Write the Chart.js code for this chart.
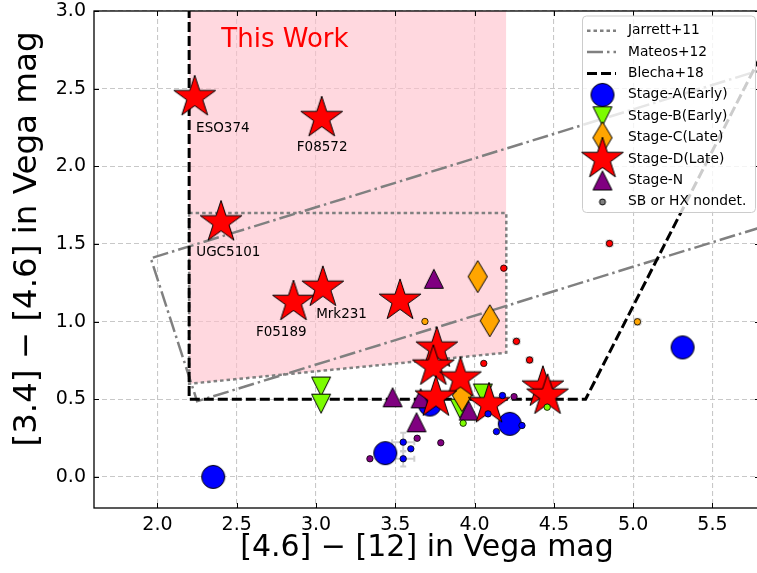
<!DOCTYPE html>
<html>
<head>
<meta charset="utf-8">
<script src="https://cdn.jsdelivr.net/npm/chart.js@4.4.0/dist/chart.umd.min.js"></script>
<style>
html, body { margin: 0; padding: 0; overflow: hidden; background: #fff; }
canvas { display: block; }
</style>
</head>
<body>
<canvas id="myChart" width="771" height="573"></canvas>
<script>
// ---- data ----
var stageAx = [2.352, 3.437, 4.222, 5.312, 3.718];
var stageAy = [0.000, 0.153, 0.342, 0.834, 0.466];
var stageBx = [3.032, 3.032, 3.907, 4.052];
var stageBy = [0.582, 0.472, 0.440, 0.537];
var stageCx = [4.020, 4.096, 3.921];
var stageCy = [1.290, 1.006, 0.524];
var stageDx = [2.235, 3.036, 2.401, 2.858, 3.043, 3.530, 3.762, 3.740, 3.911, 3.756, 4.091, 4.431, 4.460];
var stageDy = [2.445, 2.310, 1.639, 1.126, 1.218, 1.134, 0.826, 0.710, 0.633, 0.511, 0.468, 0.575, 0.523];
var stageNx = [3.743, 3.483, 3.660, 3.634, 3.963];
var stageNy = [1.276, 0.513, 0.506, 0.352, 0.427];

// SB or HX non-detected (small dots), with stage and error bars
var dotX = [3.687, 5.027, 4.184, 4.851, 4.264, 4.058, 4.347, 4.249, 4.176, 3.928, 4.085, 4.299, 4.138, 4.458, 3.638, 3.787, 3.340, 3.550, 3.598, 3.550];
var dotY = [1.001, 0.999, 1.344, 1.503, 0.873, 0.731, 0.753, 0.517, 0.524, 0.346, 0.406, 0.331, 0.292, 0.449, 0.249, 0.220, 0.117, 0.224, 0.181, 0.117];
var dotStage = ['C', 'C', 'D', 'D', 'D', 'D', 'D', 'N', 'A', 'B', 'A', 'A', 'A', 'B', 'N', 'N', 'N', 'A', 'A', 'A'];
var dotXerr = [0, 0.02, 0, 0.02, 0.02, 0, 0.02, 0, 0, 0, 0, 0, 0, 0, 0, 0, 0, 0.07, 0, 0.07];
var dotYerr = [0, 0.02, 0, 0.02, 0.02, 0, 0.02, 0, 0, 0, 0, 0, 0, 0, 0, 0, 0, 0.06, 0, 0.05];

// selection boxes
var jarrettX = [2.2, 4.2, 4.2, 2.2, 2.2];
var jarrettY = [1.7, 1.7, 0.8, 0.6, 1.7];
var mateosX = [5.9, 1.958, 2.250, 5.9];
var mateosY = [2.650, 1.408, 0.487, 1.637];
var blechaX = [2.2, 2.2, 4.7, 5.95];
var blechaY = [3.2, 0.5, 0.5, 3.0];
var workX = [2.2, 4.2];
var workY = [0.6, 0.8];

// annotations
var nameText = ['ESO374', 'F08572', 'UGC5101', 'F05189', 'Mrk231'];
var nameX = [2.244, 2.879, 2.245, 2.621, 3.001];
var nameY = [2.246, 2.118, 1.445, 0.929, 1.046];

var xTicks = [2.0, 2.5, 3.0, 3.5, 4.0, 4.5, 5.0, 5.5];
var yTicks = [0.0, 0.5, 1.0, 1.5, 2.0, 2.5, 3.0];

// ---- marker images ----
var stageColor = { A: '#0000ff', B: '#7cfc00', C: '#ffa500', D: '#ff0000', N: '#800080' };

function markerCanvas(size, draw) {
  var c = document.createElement('canvas');
  c.width = size; c.height = size;
  var g = c.getContext('2d');
  g.translate(size / 2, size / 2);
  g.beginPath();
  draw(g);
  g.closePath();
  g.lineWidth = 1;
  g.strokeStyle = '#000';
  g.fill();
  g.stroke();
  return c;
}
var starImg = markerCanvas(48, function (g) {
  g.fillStyle = stageColor.D;
  for (var i = 0; i < 10; i++) {
    var r = i % 2 ? 22 * 0.381966 : 22;
    var a = -Math.PI / 2 + i * Math.PI / 5;
    g.lineTo(r * Math.cos(a), r * Math.sin(a));
  }
});
var triUpImg = markerCanvas(24, function (g) {
  g.fillStyle = stageColor.N;
  g.moveTo(0, -9.5); g.lineTo(9.5, 9.5); g.lineTo(-9.5, 9.5);
});
var triDownImg = markerCanvas(24, function (g) {
  g.fillStyle = stageColor.B;
  g.moveTo(0, 9.5); g.lineTo(9.5, -9.5); g.lineTo(-9.5, -9.5);
});
var diamondImg = markerCanvas(36, function (g) {
  g.fillStyle = stageColor.C;
  g.moveTo(0, -16); g.lineTo(9.6, 0); g.lineTo(0, 16); g.lineTo(-9.6, 0);
});
var circleImg = markerCanvas(28, function (g) {
  g.fillStyle = stageColor.A;
  g.arc(0, 0, 11.5, 0, Math.PI * 2);
});
var dotImg = markerCanvas(10, function (g) {
  g.fillStyle = '#808080';
  g.arc(0, 0, 3, 0, Math.PI * 2);
});

function pts(xs, ys) {
  return xs.map(function (x, i) { return { x: x, y: ys[i] }; });
}

function lineSet(xs, ys, color, width, dash, order) {
  return {
    type: 'line', data: pts(xs, ys), borderColor: color, borderWidth: width,
    borderDash: dash, pointRadius: 0, fill: false, tension: 0, order: order,
    borderCapStyle: 'butt', borderJoinStyle: 'miter'
  };
}

function markSet(xs, ys, img, order) {
  return { data: pts(xs, ys), pointStyle: img, pointRadius: 10, order: order };
}

var dotSets = [];
['A', 'B', 'C', 'D', 'N'].forEach(function (s) {
  var xs = [], ys = [];
  dotStage.forEach(function (st, i) { if (st === s) { xs.push(dotX[i]); ys.push(dotY[i]); } });
  dotSets.push({
    data: pts(xs, ys), pointStyle: 'circle', pointRadius: 3.2,
    backgroundColor: stageColor[s], borderColor: '#000', borderWidth: 0.8, order: 1
  });
});

var workSet = {
  type: 'line', data: pts(workX, workY), borderWidth: 0, pointRadius: 0,
  backgroundColor: 'rgba(255,192,203,0.62)', fill: { value: 3.0 }, order: 20
};

// error bars, inward ticks, frame, annotations and legend
var extras = {
  id: 'extras',
  beforeDatasetsDraw: function (chart) {
    var ctx = chart.ctx, xs = chart.scales.x, ys = chart.scales.y;
    ctx.save();
    ctx.strokeStyle = '#cfcfcf';
    ctx.lineWidth = 2;
    dotX.forEach(function (x, i) {
      var px = xs.getPixelForValue(x), py = ys.getPixelForValue(dotY[i]);
      if (dotXerr[i]) {
        var a = xs.getPixelForValue(x - dotXerr[i]), b = xs.getPixelForValue(x + dotXerr[i]);
        ctx.beginPath(); ctx.moveTo(a, py); ctx.lineTo(b, py);
        ctx.moveTo(a, py - 3); ctx.lineTo(a, py + 3); ctx.moveTo(b, py - 3); ctx.lineTo(b, py + 3); ctx.stroke();
      }
      if (dotYerr[i]) {
        var c = ys.getPixelForValue(dotY[i] - dotYerr[i]), d = ys.getPixelForValue(dotY[i] + dotYerr[i]);
        ctx.beginPath(); ctx.moveTo(px, c); ctx.lineTo(px, d);
        ctx.moveTo(px - 3, c); ctx.lineTo(px + 3, c); ctx.moveTo(px - 3, d); ctx.lineTo(px + 3, d); ctx.stroke();
      }
    });
    ctx.restore();
  },
  afterDraw: function (chart) {
    var ctx = chart.ctx, a = chart.chartArea, xs = chart.scales.x, ys = chart.scales.y;
    ctx.save();
    // frame and inward ticks
    ctx.strokeStyle = '#000';
    ctx.lineWidth = 1.3;
    ctx.strokeRect(a.left, a.top, a.right - a.left, a.bottom - a.top);
    ctx.beginPath();
    xTicks.forEach(function (v) {
      var p = Math.round(xs.getPixelForValue(v)) + 0.5;
      ctx.moveTo(p, a.bottom); ctx.lineTo(p, a.bottom - 5);
      ctx.moveTo(p, a.top); ctx.lineTo(p, a.top + 5);
    });
    yTicks.forEach(function (v) {
      var p = Math.round(ys.getPixelForValue(v)) + 0.5;
      ctx.moveTo(a.left, p); ctx.lineTo(a.left + 5, p);
      ctx.moveTo(a.right, p); ctx.lineTo(a.right - 5, p);
    });
    ctx.lineWidth = 1;
    ctx.stroke();

    // y axis title
    ctx.save();
    ctx.translate(28, 239);
    ctx.rotate(-Math.PI / 2);
    ctx.fillStyle = '#000';
    ctx.font = '32.5px "DejaVu Sans"';
    ctx.textAlign = 'center';
    ctx.textBaseline = 'middle';
    ctx.fillText('[3.4] \u2212 [4.6] in Vega mag', 0, 0);
    ctx.restore();

    // labels
    ctx.fillStyle = '#000';
    ctx.font = '13.5px "DejaVu Sans"';
    ctx.textBaseline = 'middle';
    ctx.textAlign = 'left';
    nameText.forEach(function (t, i) {
      ctx.fillText(t, xs.getPixelForValue(nameX[i]), ys.getPixelForValue(nameY[i]));
    });
    ctx.fillStyle = '#ff0000';
    ctx.font = '26px "DejaVu Sans"';
    ctx.fillText('This Work', xs.getPixelForValue(2.403), ys.getPixelForValue(2.812));

    // legend
    var L = a.right - 177.5, T = a.top + 5, W = 173, H = 196.5;
    ctx.beginPath();
    ctx.roundRect(L, T, W, H, 4);
    ctx.fillStyle = 'rgba(255,255,255,0.8)';
    ctx.fill();
    ctx.strokeStyle = '#cccccc';
    ctx.lineWidth = 1;
    ctx.stroke();
    var rows = [
      { t: 'Jarrett+11', line: ['#808080', 2.5, [3.5, 3]] },
      { t: 'Mateos+12', line: ['#808080', 2.5, [16, 4, 2.5, 4]] },
      { t: 'Blecha+18', line: ['#000000', 3, [10, 4]] },
      { t: 'Stage-A(Early)', img: circleImg },
      { t: 'Stage-B(Early)', img: triDownImg },
      { t: 'Stage-C(Late)', img: diamondImg },
      { t: 'Stage-D(Late)', img: starImg },
      { t: 'Stage-N', img: triUpImg },
      { t: 'SB or HX nondet.', img: dotImg }
    ];
    ctx.font = '13.8px "DejaVu Sans"';
    rows.forEach(function (r, i) {
      var y = T + 14.7 + i * 21.4;
      var mx = L + 20;
      if (r.line) {
        ctx.beginPath();
        ctx.strokeStyle = r.line[0]; ctx.lineWidth = r.line[1]; ctx.setLineDash(r.line[2]);
        ctx.moveTo(L + 4.5, y); ctx.lineTo(L + 33.5, y); ctx.stroke();
        ctx.setLineDash([]);
      } else {
        ctx.drawImage(r.img, mx - r.img.width / 2, y - r.img.height / 2);
      }
      ctx.fillStyle = '#000';
      ctx.fillText(r.t, L + 45.5, y);
    });
    ctx.restore();
  }
};

Chart.defaults.color = '#000';
Chart.defaults.font.family = '"DejaVu Sans"';

new Chart(document.getElementById('myChart'), {
  type: 'scatter',
  data: {
    datasets: dotSets.concat([
      markSet(stageDx, stageDy, starImg, 2),
      markSet(stageNx, stageNy, triUpImg, 3),
      markSet(stageCx, stageCy, diamondImg, 4),
      markSet(stageBx, stageBy, triDownImg, 5),
      markSet(stageAx, stageAy, circleImg, 6),
      lineSet(blechaX, blechaY, '#000000', 3, [10, 4], 10),
      lineSet(mateosX, mateosY, '#808080', 2.5, [16, 4, 2.5, 4], 11),
      lineSet(jarrettX, jarrettY, '#808080', 2.5, [3.5, 3], 12),
      workSet
    ])
  },
  options: {
    responsive: false,
    devicePixelRatio: 1,
    animation: false,
    events: [],
    layout: { padding: { top: 10, right: 0, left: 0, bottom: 0 } },
    plugins: { legend: { display: false }, tooltip: { enabled: false } },
    scales: {
      x: {
        type: 'linear', min: 1.6, max: 5.8,
        afterFit: function (s) { s.height = 65; s.paddingLeft = 0; s.paddingRight = 0; },
        afterBuildTicks: function (s) { s.ticks = xTicks.map(function (v) { return { value: v }; }); },
        ticks: { font: { size: 19 }, padding: 6, maxRotation: 0, callback: function (v) { return v.toFixed(1); } },
        grid: { color: '#c8c8c8', lineWidth: 1.1, drawTicks: false },
        border: { display: false, dash: [5, 3] },
        title: { display: true, text: '[4.6] \u2212 [12] in Vega mag', font: { size: 30 }, padding: { top: 0, bottom: 7 } }
      },
      y: {
        type: 'linear', min: -0.2, max: 3.0,
        afterFit: function (s) { s.width = 94; s.paddingTop = 0; s.paddingBottom = 0; },
        afterBuildTicks: function (s) { s.ticks = yTicks.map(function (v) { return { value: v }; }); },
        ticks: { font: { size: 19 }, padding: 8, callback: function (v) { return v.toFixed(1); } },
        grid: { color: '#c8c8c8', lineWidth: 1.1, drawTicks: false },
        border: { display: false, dash: [5, 3] },
        title: { display: false }
      }
    }
  },
  plugins: [extras]
});
</script>
</body>
</html>
